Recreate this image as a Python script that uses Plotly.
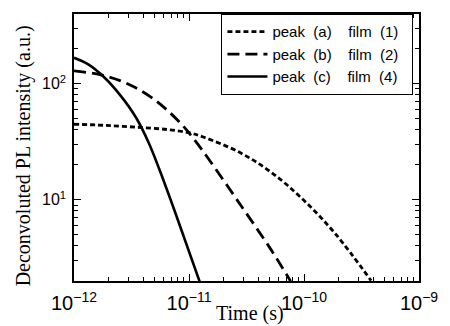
import plotly.graph_objects as go

# Time values (s) and intensities (a.u.)
t_a = [1e-12, 1.81e-12, 3.48e-12, 6.56e-12, 1.02e-11, 1.33e-11, 2.75e-11, 5.2e-11, 9.8e-11, 1.88e-10, 3.83e-10]
y_a = [44.7, 43.8, 42.2, 40.2, 37.6, 34.7, 25.6, 17.2, 10.05, 5.07, 2.01]

t_b = [1e-12, 1.71e-12, 2.51e-12, 3.48e-12, 4.73e-12, 6.56e-12, 9.08e-12, 1.10e-11, 1.45e-11, 2.75e-11, 5.2e-11, 7.64e-11]
y_b = [129, 119.1, 106.2, 91.6, 75.9, 58.3, 42.2, 33.4, 23.1, 9.29, 3.68, 1.99]

t_c = [1e-12, 1.33e-12, 1.81e-12, 2.51e-12, 3.48e-12, 4.47e-12, 5.52e-12, 7.64e-12, 1.236e-11]
y_c = [167, 146.6, 114.6, 80.0, 50.6, 30.8, 18.3, 7.62, 1.98]

nb = "\u00a0"
names = ["peak" + nb * 2 + "(a)" + nb * 4 + "film" + nb * 2 + "(1)" + nb * 2,
         "peak" + nb * 2 + "(b)" + nb * 4 + "film" + nb * 2 + "(2)" + nb * 2,
         "peak" + nb * 2 + "(c)" + nb * 4 + "film" + nb * 2 + "(4)" + nb * 2]

y_tickvals = [10, 100]
y_ticktext = ["10<sup>1</sup>", "10<sup>2</sup>"]
y_minor = [2, 3, 4, 5, 6, 7, 8, 9, 20, 30, 40, 50, 60, 70, 80, 90, 200, 300]

fig = go.Figure()
fig.add_trace(go.Scatter(x=t_a, y=y_a, mode="lines", name=names[0], line_shape="spline",
                         line=dict(color="black", width=2.8, dash="5px,3px")))
fig.add_trace(go.Scatter(x=t_b, y=y_b, mode="lines", name=names[1], line_shape="spline",
                         line=dict(color="black", width=2.8, dash="12px,6px")))
fig.add_trace(go.Scatter(x=t_c, y=y_c, mode="lines", name=names[2], line_shape="spline",
                         line=dict(color="black", width=2.6)))

tick_font = dict(family="Liberation Sans, Arial", size=16, color="black")
title_font = dict(family="Liberation Serif, Times New Roman", size=20, color="black")

axis_common = dict(
    type="log", showgrid=False, zeroline=False, showline=True, linecolor="black", linewidth=1.5,
    mirror="allticks", ticks="inside", ticklen=7, tickwidth=1, tickcolor="black",
    tickfont=tick_font, ticklabeloverflow="allow",
)

fig.update_layout(
    width=450, height=326,
    margin=dict(l=74, r=16, t=13, b=44),
    plot_bgcolor="white", paper_bgcolor="white",
    showlegend=True,
    legend=dict(x=0.983, y=1, xanchor="right", yanchor="top", xref="paper", yref="paper",
                bgcolor="white", bordercolor="black", borderwidth=1.3,
                font=dict(family="Liberation Sans, Arial", size=15, color="black"),
                tracegroupgap=0, itemwidth=40),
    xaxis=dict(axis_common, range=[-12, -9], dtick=1, exponentformat="power",
               ticklabelstandoff=4,
               minor=dict(ticks="inside", ticklen=4, tickwidth=1, tickcolor="black", dtick="D1")),
    yaxis=dict(axis_common, range=[0.3, 2.6], tickvals=y_tickvals, ticktext=y_ticktext,
               ticklabelstandoff=3,
               minor=dict(ticks="inside", ticklen=4, tickwidth=1, tickcolor="black", tickvals=y_minor)),
    annotations=[
        dict(text="Deconvoluted PL intensity (a.u.)", textangle=-90, xref="paper", yref="paper",
             x=-0.147, y=0.468, xanchor="center", yanchor="middle", showarrow=False, font=title_font),
        dict(text="Time (s)", xref="paper", yref="paper",
             x=0.51, y=-0.123, xanchor="center", yanchor="middle", showarrow=False, font=title_font),
    ],
)

fig.write_html("out.html")
